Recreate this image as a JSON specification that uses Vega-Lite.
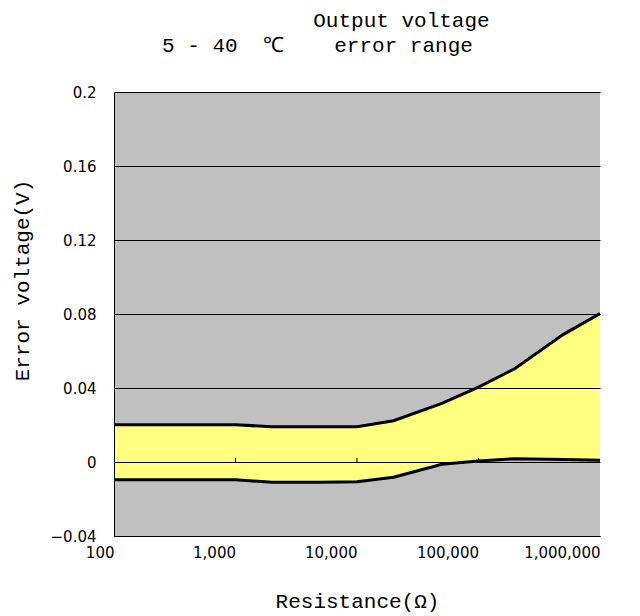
{
  "$schema": "https://vega.github.io/schema/vega-lite/v6.json",
  "width": 486,
  "height": 444,
  "autosize": "none",
  "padding": {"left": 114, "top": 92, "right": 40, "bottom": 80},
  "background": "white",
  "config": {"view": {"fill": "#C0C0C0", "stroke": null}},
  "title": {
    "text": ["\u200b\u00a0\u00a0\u00a0\u00a0\u00a0\u00a0\u00a0\u00a0\u00a0\u00a0\u00a0\u00a0Output voltage", "5\u00a0-\u00a040\u00a0\u00a0℃\u00a0\u00a0\u00a0\u00a0error range"],
    "font": "'Liberation Mono', 'DejaVu Sans Mono', monospace",
    "fontSize": 21,
    "fontWeight": "normal",
    "color": "black",
    "anchor": "start",
    "frame": "group",
    "dx": 48,
    "lineHeight": 25,
    "baseline": "bottom",
    "offset": 8
  },
  "datasets": {
    "band": [
      {"r": 100, "upper": 0.0202, "lower": -0.0096},
      {"r": 200, "upper": 0.0202, "lower": -0.0096},
      {"r": 500, "upper": 0.0202, "lower": -0.0096},
      {"r": 1000, "upper": 0.0202, "lower": -0.0096},
      {"r": 2000, "upper": 0.0190, "lower": -0.0110},
      {"r": 5000, "upper": 0.0190, "lower": -0.0110},
      {"r": 10000, "upper": 0.0191, "lower": -0.0107},
      {"r": 20000, "upper": 0.0223, "lower": -0.0082},
      {"r": 50000, "upper": 0.0317, "lower": -0.0012},
      {"r": 100000, "upper": 0.0405, "lower": 0.0006},
      {"r": 200000, "upper": 0.0505, "lower": 0.0018},
      {"r": 500000, "upper": 0.0690, "lower": 0.0013},
      {"r": 1000000, "upper": 0.0802, "lower": 0.0010}
    ],
    "zeroTicks": [
      {"r": 1000, "base": 0, "top": 0.0022},
      {"r": 10000, "base": 0, "top": 0.0022},
      {"r": 100000, "base": 0, "top": 0.0022}
    ]
  },
  "layer": [
    {
      "data": {"name": "band"},
      "mark": {"type": "area", "color": "#FFFF80", "opacity": 1},
      "encoding": {
        "x": {
          "field": "r", "type": "quantitative",
          "scale": {"type": "log", "domain": [100, 1000000]},
          "axis": {
            "values": [100, 1000, 10000, 100000, 1000000],
            "format": ",",
            "grid": false,
            "ticks": false,
            "domainColor": "black",
            "domainWidth": 1,
            "labelFont": "DejaVu Sans",
            "labelFontSize": 15,
            "labelColor": "black",
            "labelAlign": "right",
            "labelDx": 11,
            "labelPadding": 9,
            "labelBaseline": "top",
            "labelFlush": false,
            "labelOverlap": false,
            "title": "Resistance(Ω)",
            "titleFont": "'Liberation Mono', 'DejaVu Sans Mono', monospace",
            "titleFontSize": 21,
            "titleFontWeight": "normal",
            "titleColor": "black",
            "titleY": 65,
            "titleBaseline": "middle",
            "zindex": 1
          }
        },
        "y": {
          "field": "upper", "type": "quantitative",
          "scale": {"domain": [-0.04, 0.2], "nice": false, "zero": false},
          "axis": {
            "values": [-0.04, 0, 0.04, 0.08, 0.12, 0.16, 0.2],
            "format": "~g",
            "grid": true,
            "gridColor": "black",
            "gridOpacity": 1,
            "gridWidth": 1,
            "ticks": false,
            "domainColor": "black",
            "domainWidth": 1,
            "labelFont": "DejaVu Sans",
            "labelFontSize": 15,
            "labelColor": "black",
            "labelPadding": 18,
            "title": "Error voltage(V)",
            "titleFont": "'Liberation Mono', 'DejaVu Sans Mono', monospace",
            "titleFontSize": 21,
            "titleFontWeight": "normal",
            "titleColor": "black",
            "titleX": -92,
            "titleY": 188,
            "titleAngle": -90,
            "titleAlign": "center",
            "titleBaseline": "middle",
            "zindex": 1
          }
        },
        "y2": {"field": "lower"}
      }
    },
    {
      "data": {"name": "band"},
      "mark": {"type": "line", "color": "black", "strokeWidth": 3},
      "encoding": {
        "x": {"field": "r", "type": "quantitative"},
        "y": {"field": "upper", "type": "quantitative", "title": "Error voltage(V)"}
      }
    },
    {
      "data": {"name": "band"},
      "mark": {"type": "line", "color": "black", "strokeWidth": 3},
      "encoding": {
        "x": {"field": "r", "type": "quantitative"},
        "y": {"field": "lower", "type": "quantitative", "title": "Error voltage(V)"}
      }
    },
    {
      "data": {"name": "zeroTicks"},
      "mark": {"type": "rule", "color": "black", "strokeWidth": 1},
      "encoding": {
        "x": {"field": "r", "type": "quantitative"},
        "y": {"field": "base", "type": "quantitative", "title": "Error voltage(V)"},
        "y2": {"field": "top"}
      }
    }
  ]
}
